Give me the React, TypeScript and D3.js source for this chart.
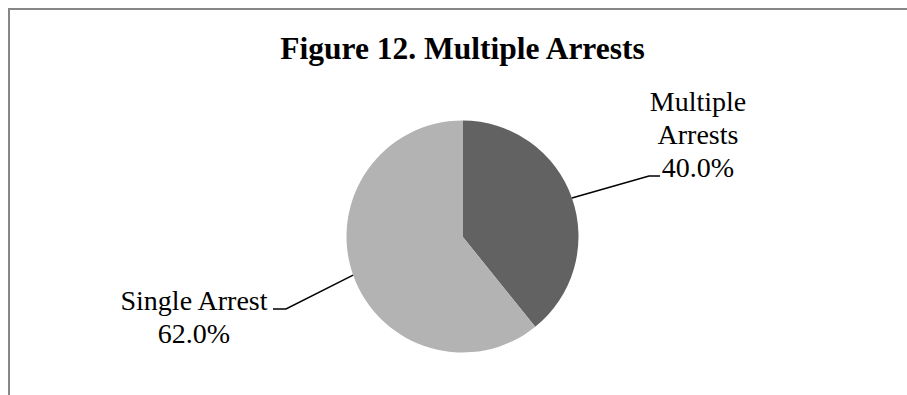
import React from "react";
import * as d3 from "d3";

const categories = ["Multiple Arrests", "Single Arrest"];
const values = [40.0, 62.0];
const labelLines = [["Multiple", "Arrests", "40.0%"], ["Single Arrest", "62.0%"]];
const colors = ["#626262", "#b3b3b3"];
const title = "Figure 12. Multiple Arrests";

const W = 907;
const H = 395;
const cx = 462.5;
const cy = 236.5;
const R = 116;
const FONT = "Liberation Serif, Tinos, Times New Roman, Times, serif";

export default function App() {
  const pie = d3.pie<number>().sort(null).value((d) => d);
  const arcs = pie(values);
  const arc = d3.arc<d3.PieArcDatum<number>>().innerRadius(0).outerRadius(R);

  const labelCfg = [
    { x: 698, y: 111, elbowX: 649, endX: 660, anchorLine: 2 },
    { x: 194, y: 310, elbowX: 286, endX: 273, anchorLine: 0 },
  ];
  const lineH = 33;

  return (
    <svg
      width={W}
      height={H}
      style={{ position: "absolute", left: 0, top: 0, background: "#fff" }}
    >
      <rect x={0} y={0} width={W} height={H} fill="#fff" />
      <path d={`M9,${H + 5} V9 H${W + 5}`} fill="none" stroke="#878787" strokeWidth={2} />
      <text
        x={cx}
        y={59}
        textAnchor="middle"
        style={{ fontFamily: FONT, fontWeight: "bold", fontSize: "31.5px" }}
        fill="#000"
      >
        {title}
      </text>
      <g transform={`translate(${cx},${cy})`}>
        {arcs.map((a, i) => (
          <path key={categories[i]} d={arc(a) || ""} fill={colors[i]} />
        ))}
      </g>
      {arcs.map((a, i) => {
        const mid = (a.startAngle + a.endAngle) / 2;
        const px = cx + R * Math.sin(mid);
        const py = cy - R * Math.cos(mid);
        const cfg = labelCfg[i];
        const ly = cfg.y + cfg.anchorLine * lineH - 1;
        return (
          <g key={categories[i]}>
            <polyline
              points={`${px},${py} ${cfg.elbowX},${ly} ${cfg.endX},${ly}`}
              fill="none"
              stroke="#000"
              strokeWidth={1.5}
            />
            {labelLines[i].map((t, j) => (
              <text
                key={t}
                x={cfg.x}
                y={cfg.y + j * lineH}
                textAnchor="middle"
                style={{ fontFamily: FONT, fontSize: "28px" }}
                fill="#000"
              >
                {t}
              </text>
            ))}
          </g>
        );
      })}
    </svg>
  );
}
